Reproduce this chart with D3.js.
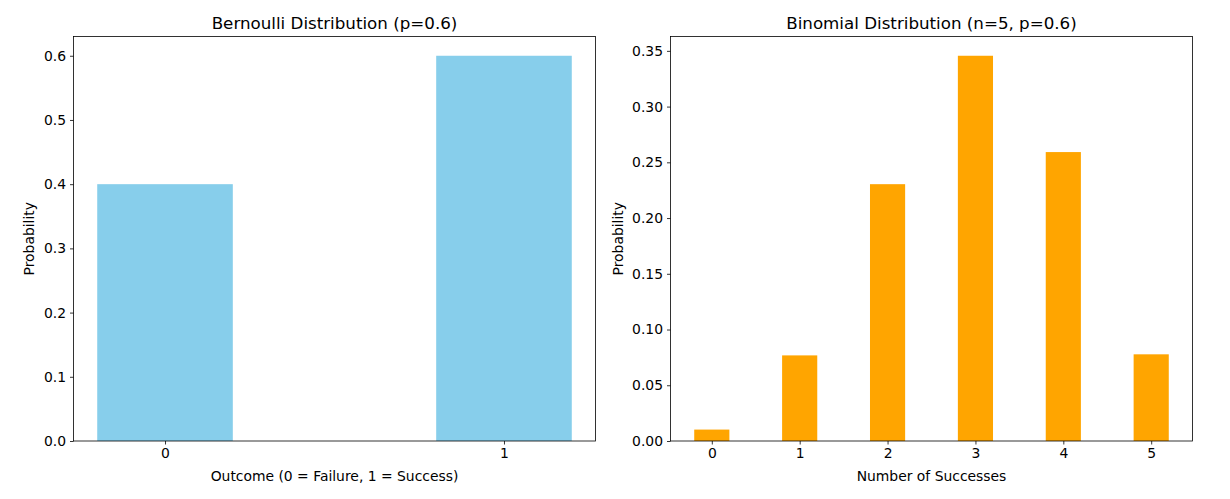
<!DOCTYPE html>
<html><head><meta charset="utf-8">
<script src="https://cdn.jsdelivr.net/npm/d3@7"></script>
<style>body{margin:0;background:#fff}svg{display:block}text{font-family:"DejaVu Sans",sans-serif;fill:#000}</style>
</head><body><svg id="c" width="1230" height="499"></svg>
<script>
const bernCats = [0, 1];
const bernVals = [0.4, 0.6];
const bernTicks = [0, 0.1, 0.2, 0.3, 0.4, 0.5, 0.6];
const binCats = [0, 1, 2, 3, 4, 5];
const binVals = [0.01024, 0.0768, 0.2304, 0.3456, 0.2592, 0.07776];
const binTicks = [0, 0.05, 0.10, 0.15, 0.20, 0.25, 0.30, 0.35];

const svg = d3.select("#c");
function panel(o) {
  const g = svg.append("g");
  const x = d3.scaleLinear().domain(o.xdom).range([o.x0, o.x1]);
  const y = d3.scaleLinear().domain([0, o.ymax]).range([o.y1, o.y0]);
  g.selectAll("rect.bar").data(o.cats).join("rect")
    .attr("x", (d) => x(d - 0.2)).attr("width", x(0.4) - x(0))
    .attr("y", (d, i) => y(o.vals[i])).attr("height", (d, i) => y(0) - y(o.vals[i]))
    .attr("fill", o.color);
  const ax = g.append("g").attr("transform", `translate(0,${o.y1})`)
    .call(d3.axisBottom(x).tickValues(o.cats).tickFormat(d3.format("d")).tickSize(3.5).tickPadding(4));
  const ay = g.append("g").attr("transform", `translate(${o.x0},0)`)
    .call(d3.axisLeft(y).tickValues(o.ticks).tickFormat(d3.format(o.fmt)).tickSize(3.5).tickPadding(4));
  [ax, ay].forEach(a => {
    a.select(".domain").remove();
    a.selectAll("text").attr("font-size", 13.9).attr("font-family", "DejaVu Sans");
    a.selectAll("line").attr("stroke", "#000").attr("stroke-width", 0.8);
  });
  g.append("rect").attr("x", o.x0).attr("y", o.y0).attr("width", o.x1 - o.x0).attr("height", o.y1 - o.y0)
    .attr("fill", "none").attr("stroke", "#000").attr("stroke-width", 0.8);
  g.append("text").attr("x", (o.x0 + o.x1) / 2).attr("y", o.y0 - 8).attr("text-anchor", "middle")
    .attr("font-size", 16.7).text(o.title);
  g.append("text").attr("x", (o.x0 + o.x1) / 2).attr("y", o.y1 + 40).attr("text-anchor", "middle")
    .attr("font-size", 13.9).text(o.xlabel);
  g.append("text").attr("transform", `translate(${o.x0 - o.ylabOff},${(o.y0 + o.y1) / 2}) rotate(-90)`)
    .attr("text-anchor", "middle").attr("font-size", 13.9).text("Probability");
}
panel({cats: bernCats, vals: bernVals, ticks: bernTicks, fmt: ".1f", xdom: [-0.27, 1.27], ymax: 0.63,
  x0: 73.5, x1: 595.5, y0: 36.5, y1: 441, color: "#87CEEB", title: "Bernoulli Distribution (p=0.6)",
  xlabel: "Outcome (0 = Failure, 1 = Success)", ylabOff: 40});
panel({cats: binCats, vals: binVals, ticks: binTicks, fmt: ".2f", xdom: [-0.47, 5.47], ymax: 0.36288,
  x0: 670.5, x1: 1192.5, y0: 36.5, y1: 441, color: "#FFA500", title: "Binomial Distribution (n=5, p=0.6)",
  xlabel: "Number of Successes", ylabOff: 48});
</script></body></html>
